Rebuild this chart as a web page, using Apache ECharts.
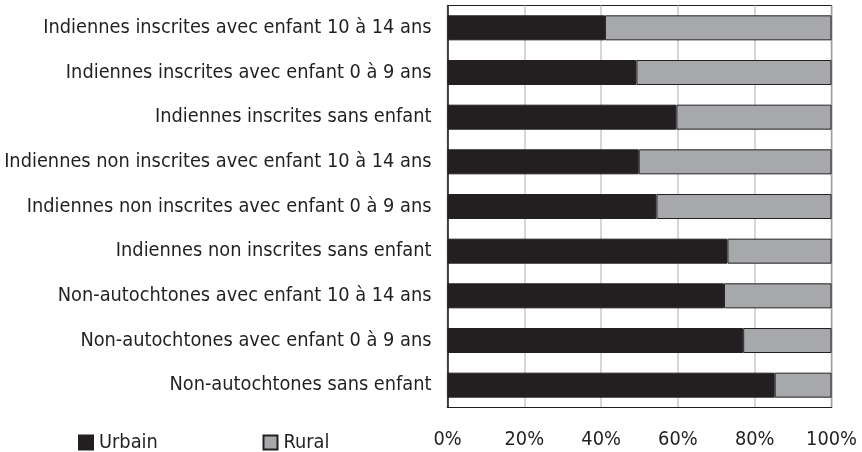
<!DOCTYPE html>
<html><head><meta charset="utf-8">
<script src="https://cdn.jsdelivr.net/npm/echarts@6/dist/echarts.min.js"></script>
<style>html,body{margin:0;padding:0;background:#fff}#c{width:862px;height:452px}</style>
</head><body><div id="c"></div>
<script>
const categories = [
  "Indiennes inscrites avec enfant 10 à 14 ans",
  "Indiennes inscrites avec enfant 0 à 9 ans",
  "Indiennes inscrites sans enfant",
  "Indiennes non inscrites avec enfant 10 à 14 ans",
  "Indiennes non inscrites avec enfant 0 à 9 ans",
  "Indiennes non inscrites sans enfant",
  "Non-autochtones avec enfant 10 à 14 ans",
  "Non-autochtones avec enfant 0 à 9 ans",
  "Non-autochtones sans enfant"
];
const urbain = [41.0, 49.2, 59.6, 49.8, 54.4, 72.9, 72.0, 77.0, 85.2];
const rural = [59.0, 50.8, 40.4, 50.2, 45.6, 27.1, 28.0, 23.0, 14.8];
const xTicks = [0, 20, 40, 60, 80, 100];

const FONT = '"Liberation Sans Narrow", "DejaVu Sans Condensed", sans-serif';
const INK = '#231f20';
const GRAY = '#a7a8ab';
const legendBase = {
  top: 432.5, padding: 0, itemWidth: 14, itemHeight: 14, icon: 'rect',
  textStyle: {fontFamily: FONT, fontSize: 19.8, color: INK, padding: [0, 0, 0, 1]}
};
const chart = echarts.init(document.getElementById('c'), null, {renderer: 'canvas'});
chart.setOption({
  animation: false,
  textStyle: {fontFamily: FONT, color: INK},
  grid: {left: 447.5, right: 30.5, top: 5.5, bottom: 44.5, show: true, borderColor: INK, borderWidth: 1.2, containLabel: false},
  legend: [
    Object.assign({left: 78, data: ['Urbain']}, legendBase),
    Object.assign({left: 262.5, data: ['Rural']}, legendBase)
  ],
  xAxis: {
    type: 'value', min: 0, max: 100, interval: 20,
    axisLine: {show: true, lineStyle: {color: INK, width: 1.2}},
    axisTick: {show: false},
    splitLine: {show: true, lineStyle: {color: '#c8c8c8', width: 1.5}},
    axisLabel: {fontFamily: FONT, fontSize: 19.8, color: INK, margin: 22,
      formatter: v => xTicks.includes(v) ? v + '%' : ''}
  },
  yAxis: {
    type: 'category', data: categories, inverse: true,
    axisLine: {show: true, lineStyle: {color: INK, width: 1.5}},
    axisTick: {show: false},
    axisLabel: {fontFamily: FONT, fontSize: 19.8, color: INK, margin: 16}
  },
  series: [
    {name: 'Urbain', type: 'bar', stack: 't', data: urbain, barWidth: 25,
     itemStyle: {color: INK, borderColor: INK, borderWidth: 1}},
    {name: 'Rural', type: 'bar', stack: 't', data: rural, barWidth: 25,
     itemStyle: {color: GRAY, borderColor: INK, borderWidth: 1}}
  ]
});
</script></body></html>
